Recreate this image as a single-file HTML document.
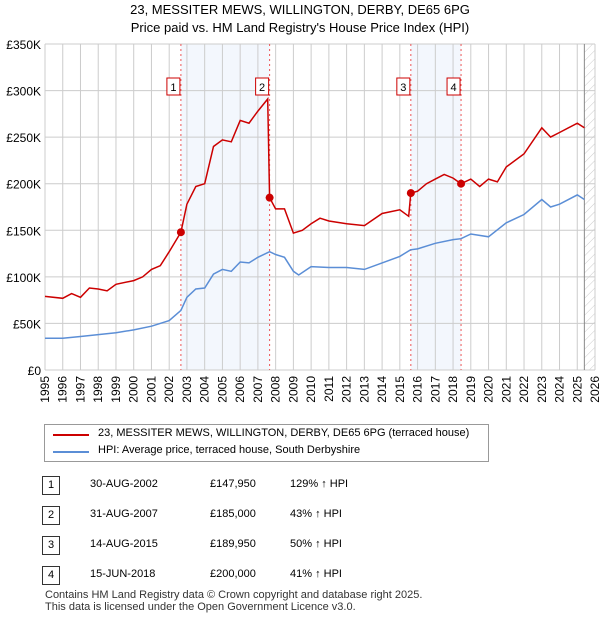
<!DOCTYPE html>
<html><head><meta charset="utf-8"><style>
body{margin:0;background:#fff;font-family:"Liberation Sans","DejaVu Sans",sans-serif;}
#wrap{position:relative;width:600px;height:620px;}
.t{position:absolute;font-size:12px;color:#000;}
</style></head><body>
<div id="wrap">
<svg id="chart" width="600" height="620" style="position:absolute;left:0;top:0"></svg>
</div>
<script>
const years=[1995,1996,1997,1998,1999,2000,2001,2002,2003,2004,2005,2006,2007,2008,2009,2010,2011,2012,2013,2014,2015,2016,2017,2018,2019,2020,2021,2022,2023,2024,2025,2026];
const yTicks=[0,50,100,150,200,250,300,350];
const yTickLabels=["£0","£50K","£100K","£150K","£200K","£250K","£300K","£350K"];
const hpiT=[1995,1996,1997,1998,1999,2000,2001,2002,2002.66,2003,2003.5,2004,2004.5,2005,2005.5,2006,2006.5,2007,2007.66,2008,2008.5,2009,2009.3,2010,2011,2012,2013,2014,2015,2015.6,2016,2017,2018,2018.45,2019,2020,2021,2022,2023,2023.5,2024,2025,2025.4];
const hpiV=[34,34,36,38,40,43,47,53,64,78,87,88,103,108,106,116,115,121,127,124,121,106,102,111,110,110,108,115,122,129,130,136,140,141,146,143,158,167,183,175,178,188,183];
const redT=[1995,1996,1996.5,1997,1997.5,1998,1998.5,1999,2000,2000.5,2001,2001.5,2002,2002.66,2003,2003.5,2004,2004.5,2005,2005.5,2006,2006.5,2007,2007.55,2007.66,2008,2008.5,2009,2009.5,2010,2010.5,2011,2012,2013,2014,2015,2015.5,2015.62,2016,2016.5,2017,2017.5,2018,2018.45,2019,2019.5,2020,2020.5,2021,2022,2023,2023.5,2024,2025,2025.4];
const redV=[79,77,82,78,88,87,85,92,96,100,108,112,127,147.95,178,197,200,240,247,245,268,265,278,291,185,173,173,147,150,157,163,160,157,155,168,172,165,189.95,192,200,205,210,206,200,205,197,205,202,218,232,260,250,255,265,260];
const saleT=[2002.66,2007.66,2015.62,2018.45];
const saleV=[147.95,185,189.95,200];
const saleLabels=["1","2","3","4"];
const L=45,R=595,T=44,B=370;
const x=t=>L+(t-1995)/(2026-1995)*(R-L);
const y=v=>B-v/350*(B-T);
const s=document.getElementById('chart');const N='http://www.w3.org/2000/svg';
function mk(tag,a,p){const e=document.createElementNS(N,tag);for(const k in a)e.setAttribute(k,a[k]);(p||s).appendChild(e);return e;}
let d=mk('defs',{});let pat=mk('pattern',{id:'h',width:6,height:6,patternUnits:'userSpaceOnUse',patternTransform:'rotate(45)'},d);mk('line',{x1:0,y1:0,x2:0,y2:6,stroke:'#ccc','stroke-width':1},pat);
let e;
e=mk('rect',{x:x(saleT[0]),y:T,width:x(saleT[1])-x(saleT[0]),height:B-T,fill:'#eef3fc',opacity:0.7});

e=mk('rect',{x:x(saleT[2]),y:T,width:x(saleT[3])-x(saleT[2]),height:B-T,fill:'#eef3fc',opacity:0.7});

e=mk('rect',{x:x(2025.4),y:T,width:R-x(2025.4),height:B-T,fill:'url(#h)'});

years.forEach(yr=>{let g=mk('line',{x1:x(yr),x2:x(yr),y1:T,y2:B,stroke:'#ccc'});
let tx=mk('text',{x:0,y:0,transform:`translate(${x(yr)+4},${B+6}) rotate(-90)`,'text-anchor':'end','font-size':12});tx.textContent=yr;});
yTicks.forEach((v,i)=>{let g=mk('line',{x1:L,x2:R,y1:y(v),y2:y(v),stroke:'#ccc'});
let tx=mk('text',{x:L-4,y:y(v)+5,'text-anchor':'end','font-size':12});tx.textContent=yTickLabels[i];});
e=mk('line',{x1:x(2025.4),x2:x(2025.4),y1:T,y2:B,stroke:'#888'});
saleT.forEach((t,i)=>{let l=mk('line',{x1:x(t),x2:x(t),y1:T,y2:B,stroke:'#e55','stroke-dasharray':'2,3'});});
const pts=(ts,vs)=>ts.map((t,i)=>x(t).toFixed(1)+','+y(vs[i]).toFixed(1)).join(' ');
e=mk('polyline',{points:pts(hpiT,hpiV),fill:'none',stroke:'#5b8ed6','stroke-width':1.5});
e=mk('polyline',{points:pts(redT,redV),fill:'none',stroke:'#cc0000','stroke-width':1.5});
saleT.forEach((t,i)=>{let c=mk('circle',{cx:x(t),cy:y(saleV[i]),r:4,fill:'#cc0000'});
let bx=mk('rect',{x:x(t)-14,y:78,width:13,height:17,fill:'#fff',stroke:'#cc0000'});
let tx=mk('text',{x:x(t)-7.5,y:91,'text-anchor':'middle','font-size':11});tx.textContent=saleLabels[i];});
</script>
<div class="t" style="left:0;width:600px;text-align:center;top:2px;font-size:13px">23, MESSITER MEWS, WILLINGTON, DERBY, DE65 6PG</div>
<div class="t" style="left:0;width:600px;text-align:center;top:20px;font-size:13px">Price paid vs. HM Land Registry's House Price Index (HPI)</div>
<div style="position:absolute;left:44px;top:424px;width:443px;height:36px;border:1px solid #999">
<div style="position:absolute;left:8px;top:9px;width:36px;border-top:2px solid #cc0000"></div>
<div class="t" style="left:53px;top:2px;font-size:11px">23, MESSITER MEWS, WILLINGTON, DERBY, DE65 6PG (terraced house)</div>
<div style="position:absolute;left:8px;top:26px;width:36px;border-top:2px solid #5b8ed6"></div>
<div class="t" style="left:53px;top:19px;font-size:11px">HPI: Average price, terraced house, South Derbyshire</div>
</div>
<div id="tbl"></div>
<script>
const rows=[["1","30-AUG-2002","£147,950","129% ↑ HPI"],["2","31-AUG-2007","£185,000","43% ↑ HPI"],["3","14-AUG-2015","£189,950","50% ↑ HPI"],["4","15-JUN-2018","£200,000","41% ↑ HPI"]];
const w=document.getElementById('wrap');
rows.forEach((r,i)=>{const top=476+i*30;
let b=document.createElement('div');b.style.cssText=`position:absolute;left:42px;top:${top}px;width:16px;height:17px;border:1px solid #333;font-size:11px;text-align:center;line-height:17px`;b.textContent=r[0];w.appendChild(b);
[[90,r[1],'left'],[210,r[2],'left'],[290,r[3],'left']].forEach(c=>{let d=document.createElement('div');d.className='t';d.style.cssText=`left:${c[0]}px;top:${top+2}px;font-size:11px`;d.textContent=c[1];w.appendChild(d);});});
</script>
<div class="t" style="left:45px;top:589px;font-size:11px;line-height:12px;color:#333">Contains HM Land Registry data © Crown copyright and database right 2025.<br>This data is licensed under the Open Government Licence v3.0.</div>
</body></html>
